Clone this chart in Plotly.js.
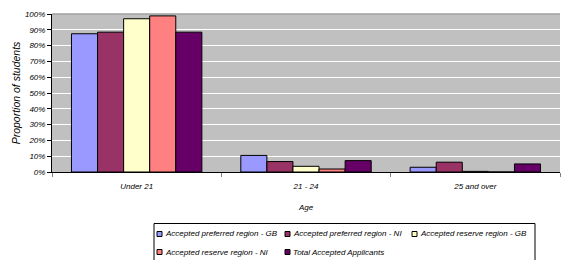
<!DOCTYPE html>
<html><head><meta charset="utf-8">
<script src="https://cdn.plot.ly/plotly-3.0.1.min.js"></script>
<style>body{margin:0;background:#fff}#c{width:561px;height:260px}</style>
</head><body><div id="c"></div>
<script>
const categories = ["Under 21", "21 - 24", "25 and over"];
const seriesNames = ["Accepted preferred region - GB", "Accepted preferred region - NI", "Accepted reserve region - GB", "Accepted reserve region - NI", "Total Accepted Applicants"];
const prefGB = [0.875, 0.105, 0.03];
const prefNI = [0.885, 0.066, 0.062];
const resGB = [0.97, 0.036, 0.004];
const resNI = [0.988, 0.019, 0.0];
const total = [0.885, 0.072, 0.051];
const colors = ["#9999FF", "#993366", "#FFFFCC", "#FF8080", "#660066"];
const values = [prefGB, prefNI, resGB, resNI, total];

const M = {l: 52, r: 1, t: 14, b: 88};
const W = 561, H = 260;
const pw = W - M.l - M.r, ph = H - M.t - M.b;
const px = x => (x - M.l) / pw;
const py = y => (H - M.b - y) / ph;

const font = {family: "Liberation Sans, Arial, sans-serif", size: 8, color: "#000", style: "italic"};
const traces = values.map((v, i) => ({
  type: "bar", x: categories, y: v, name: seriesNames[i],
  marker: {color: colors[i], line: {color: "#000", width: 1}},
  hoverinfo: "skip"
}));

// custom legend (Excel style)
const legCols = [157, 285, 412];
const legRows = [234, 252];
const shapes = [
  {type: "line", xref: "paper", yref: "paper", x0: 0, x1: 1, y0: 1, y1: 1, line: {color: "#A0A0A0", width: 1.5}},
  {type: "rect", xref: "paper", yref: "paper", x0: px(154), x1: px(535), y0: py(223.5), y1: py(263), line: {color: "#000", width: 1}, fillcolor: "#fff", layer: "above"}
];
const annotations = [];
seriesNames.forEach((n, i) => {
  const cx = legCols[i % 3], cy = legRows[Math.floor(i / 3)];
  shapes.push({type: "rect", xref: "paper", yref: "paper", x0: px(cx), x1: px(cx + 5), y0: py(cy - 2.5), y1: py(cy + 2.5),
    line: {color: "#000", width: 1}, fillcolor: colors[i], layer: "above"});
  annotations.push({xref: "paper", yref: "paper", x: px(cx + 6), y: py(cy), xanchor: "left", yanchor: "middle",
    text: n, showarrow: false, font: font});
});

const layout = {
  width: W, height: H,
  margin: M,
  paper_bgcolor: "#fff", plot_bgcolor: "#C0C0C0",
  font: font,
  barmode: "group", bargap: 0.23, bargroupgap: 0,
  showlegend: false,
  xaxis: {type: "category", tickson: "boundaries", ticks: "outside", ticklen: 4, tickcolor: "#808080",
    showline: true, linecolor: "#000", linewidth: 1, showgrid: false, tickfont: font, automargin: false,
    ticklabelstandoff: 6,
    title: {text: "Age", font: font, standoff: 14}},
  yaxis: {range: [0, 1], dtick: 0.1, tickformat: ".0%", ticks: "outside", ticklen: 4, tickcolor: "#000",
    showline: true, linecolor: "#000", linewidth: 1, gridcolor: "#fff", gridwidth: 1, zeroline: false, automargin: false,
    tickfont: font, title: {text: "Proportion of students", font: Object.assign({}, font, {size: 10.5}), standoff: 2}},
  shapes: shapes,
  annotations: annotations
};
Plotly.newPlot("c", traces, layout, {displayModeBar: false, staticPlot: true});
</script></body></html>
